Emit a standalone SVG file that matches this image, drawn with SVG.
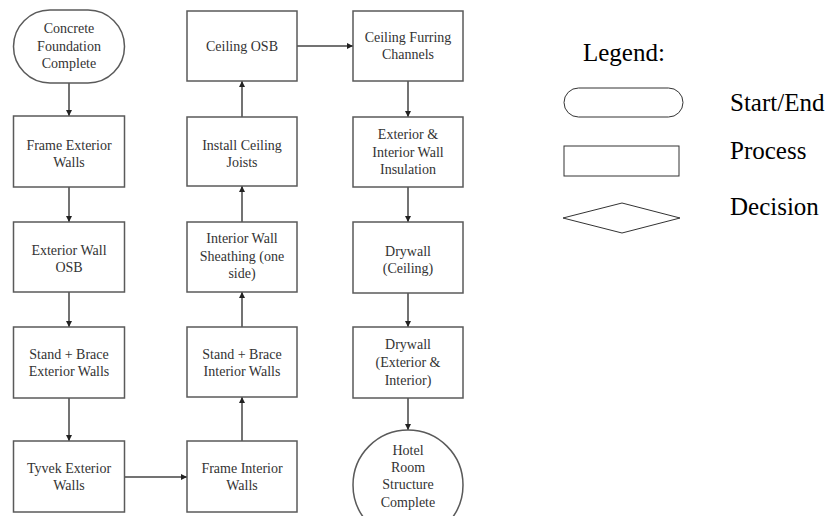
<svg xmlns="http://www.w3.org/2000/svg" width="831" height="516" viewBox="0 0 831 516">
<style>
.box{fill:#fff;stroke:#5a5a5a;stroke-width:1.5}
.t{font-size:14px;fill:#333;text-anchor:middle}
.leg{fill:#fff;stroke:#333;stroke-width:1}
.lt{font-size:25px;fill:#000}
.c{stroke:#444;stroke-width:1.5;fill:none;marker-end:url(#ah)}
</style>
<defs>
<marker id="ah" viewBox="0 0 10 10" refX="10" refY="5" markerWidth="6" markerHeight="6" markerUnits="userSpaceOnUse" orient="auto">
<path d="M0,0 L10,5 L0,10 z" fill="#222"/>
</marker>
</defs>
<rect width="831" height="516" fill="#fff"/>
<g id="connectors">
<line class="c" x1="69" y1="83" x2="69" y2="116"/>
<line class="c" x1="69" y1="187" x2="69" y2="222"/>
<line class="c" x1="69" y1="292" x2="69" y2="327"/>
<line class="c" x1="69" y1="398" x2="69" y2="441"/>
<line class="c" x1="124" y1="477" x2="187" y2="477"/>
<line class="c" x1="242" y1="441" x2="242" y2="397"/>
<line class="c" x1="242" y1="327" x2="242" y2="292"/>
<line class="c" x1="242" y1="222" x2="242" y2="186"/>
<line class="c" x1="242" y1="117" x2="242" y2="81"/>
<line class="c" x1="297" y1="46" x2="353" y2="46"/>
<line class="c" x1="408" y1="81" x2="408" y2="117"/>
<line class="c" x1="408" y1="187" x2="408" y2="222"/>
<line class="c" x1="408" y1="293" x2="408" y2="327"/>
<line class="c" x1="408" y1="398" x2="408" y2="430"/>
</g>
<g font-family="Liberation Serif, Times New Roman, serif">
<g id="n_start">
<rect class="box" x="13.5" y="10" width="111" height="73" rx="36.5" ry="36.5"/>
<text class="t" x="69" y="33">Concrete</text>
<text class="t" x="69" y="51">Foundation</text>
<text class="t" x="69" y="68">Complete</text>
</g>
<g id="n_frame_ext">
<rect class="box" x="13.5" y="116" width="111" height="71"/>
<text class="t" x="69" y="150">Frame Exterior</text>
<text class="t" x="69" y="167">Walls</text>
</g>
<g id="n_ext_osb">
<rect class="box" x="13.5" y="222" width="111" height="70"/>
<text class="t" x="69" y="255">Exterior Wall</text>
<text class="t" x="69" y="272">OSB</text>
</g>
<g id="n_stand_ext">
<rect class="box" x="13.5" y="327" width="111" height="71"/>
<text class="t" x="69" y="359">Stand + Brace</text>
<text class="t" x="69" y="376">Exterior Walls</text>
</g>
<g id="n_tyvek">
<rect class="box" x="13.5" y="441" width="111" height="71"/>
<text class="t" x="69" y="473">Tyvek Exterior</text>
<text class="t" x="69" y="490">Walls</text>
</g>
<g id="n_frame_int">
<rect class="box" x="187" y="441" width="110" height="71"/>
<text class="t" x="242" y="473">Frame Interior</text>
<text class="t" x="242" y="490">Walls</text>
</g>
<g id="n_stand_int">
<rect class="box" x="187" y="327" width="110" height="70"/>
<text class="t" x="242" y="359">Stand + Brace</text>
<text class="t" x="242" y="376">Interior Walls</text>
</g>
<g id="n_sheathing">
<rect class="box" x="187" y="222" width="110" height="70"/>
<text class="t" x="242" y="243">Interior Wall</text>
<text class="t" x="242" y="261">Sheathing (one</text>
<text class="t" x="242" y="278">side)</text>
</g>
<g id="n_joists">
<rect class="box" x="187" y="117" width="110" height="69"/>
<text class="t" x="242" y="150">Install Ceiling</text>
<text class="t" x="242" y="167">Joists</text>
</g>
<g id="n_ceiling_osb">
<rect class="box" x="187" y="11" width="110" height="70"/>
<text class="t" x="242" y="51">Ceiling OSB</text>
</g>
<g id="n_furring">
<rect class="box" x="353" y="11" width="110" height="70"/>
<text class="t" x="408" y="42">Ceiling Furring</text>
<text class="t" x="408" y="59">Channels</text>
</g>
<g id="n_insulation">
<rect class="box" x="353" y="117" width="110" height="70"/>
<text class="t" x="408" y="139">Exterior &amp;</text>
<text class="t" x="408" y="157">Interior Wall</text>
<text class="t" x="408" y="174">Insulation</text>
</g>
<g id="n_drywall_ceiling">
<rect class="box" x="353" y="222" width="110" height="71"/>
<text class="t" x="408" y="256">Drywall</text>
<text class="t" x="408" y="273">(Ceiling)</text>
</g>
<g id="n_drywall_walls">
<rect class="box" x="353" y="327" width="110" height="71"/>
<text class="t" x="408" y="349">Drywall</text>
<text class="t" x="408" y="367">(Exterior &amp;</text>
<text class="t" x="408" y="385">Interior)</text>
</g>
<g id="n_end">
<circle class="box" cx="408" cy="485" r="55"/>
<text class="t" x="408" y="455">Hotel</text>
<text class="t" x="408" y="472">Room</text>
<text class="t" x="408" y="489">Structure</text>
<text class="t" x="408" y="507">Complete</text>
</g>
<g id="legend">
<text class="lt" x="583" y="61">Legend:</text>
<rect class="leg" x="564" y="88" width="119" height="29" rx="14.5" ry="14.5"/>
<text class="lt" x="730" y="111">Start/End</text>
<rect class="leg" x="564" y="146" width="115" height="30"/>
<text class="lt" x="730" y="159">Process</text>
<polygon class="leg" points="563,218 622,203 680,218 622,233"/>
<text class="lt" x="730" y="215">Decision</text>
</g>
</g>
</svg>
